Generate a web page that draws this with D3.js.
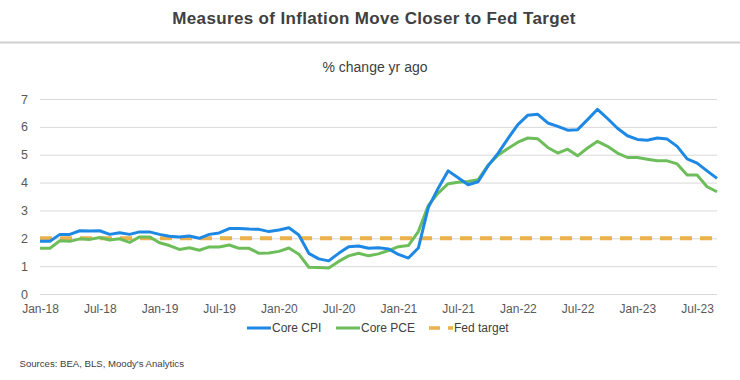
<!DOCTYPE html>
<html>
<head>
<meta charset="utf-8">
<script src="https://cdn.jsdelivr.net/npm/d3@7"></script>
<style>
  html, body { margin: 0; padding: 0; background: #ffffff; }
  svg { display: block; font-family: "Liberation Sans", Arial, sans-serif; }
</style>
</head>
<body>
<svg id="chart" width="740" height="380"></svg>
<script>
// ---- Data (monthly, Jan-18 .. Sep-23) ----
const months = d3.range(69); // month index from Jan-18
const tickLabels = ["Jan-18","Jul-18","Jan-19","Jul-19","Jan-20","Jul-20","Jan-21","Jul-21","Jan-22","Jul-22","Jan-23","Jul-23"];
const tickIndex = [0,6,12,18,24,30,36,42,48,54,60,66];
const yTicks = [0,1,2,3,4,5,6,7];

const coreCPI = [
  1.89,1.89,2.14,2.14,2.27,2.26,2.27,2.14,2.20,2.14,2.23,2.23,
  2.14,2.07,2.05,2.08,2.00,2.14,2.19,2.35,2.35,2.33,2.32,2.24,
  2.30,2.38,2.12,1.46,1.26,1.19,1.46,1.70,1.72,1.64,1.66,1.62,
  1.42,1.29,1.65,3.10,3.80,4.42,4.17,3.92,4.03,4.60,5.05,5.58,
  6.08,6.42,6.45,6.14,6.02,5.88,5.90,6.26,6.63,6.30,5.95,5.68,
  5.55,5.52,5.60,5.56,5.30,4.85,4.70,4.42,4.15
];
const corePCE = [
  1.64,1.64,1.91,1.89,1.98,1.96,2.03,1.94,1.98,1.85,2.05,2.05,
  1.84,1.74,1.60,1.66,1.57,1.69,1.69,1.76,1.64,1.64,1.46,1.47,
  1.53,1.65,1.43,0.96,0.95,0.93,1.17,1.37,1.46,1.37,1.44,1.56,
  1.70,1.74,2.24,3.18,3.62,3.96,4.01,4.04,4.10,4.62,4.98,5.22,
  5.45,5.60,5.57,5.26,5.06,5.20,4.96,5.24,5.48,5.30,5.06,4.90,
  4.90,4.84,4.78,4.78,4.67,4.27,4.27,3.85,3.67
];
const fedTarget = months.map(() => 2);

const seriesNames = ["Core CPI","Core PCE","Fed target"];
const seriesColors = ["#1E88E5","#6DBE5B","#EAB14C"];

// ---- Layout ----
const svg = d3.select("#chart");
const W = 740;
const plot = { left: 40, right: 717, top: 99, bottom: 294 };

const x = d3.scaleLinear().domain([0, 68]).range([plot.left, plot.right]);
const y = d3.scaleLinear().domain([0, 7]).range([plot.bottom, plot.top]);

// Title
svg.append("text")
  .attr("x", 374).attr("y", 23.5)
  .attr("text-anchor", "middle")
  .attr("font-size", 17).attr("font-weight", "bold")
  .attr("letter-spacing", 0.35)
  .attr("fill", "#404040")
  .text("Measures of Inflation Move Closer to Fed Target");

svg.append("line")
  .attr("x1", 0).attr("x2", W).attr("y1", 42.5).attr("y2", 42.5)
  .attr("stroke", "#d0d0d0").attr("stroke-width", 2);

svg.append("text")
  .attr("x", 375).attr("y", 72)
  .attr("text-anchor", "middle")
  .attr("font-size", 14)
  .attr("fill", "#404040")
  .text("% change yr ago");

// Y axis with gridlines
const yAxis = svg.append("g")
  .attr("transform", `translate(${plot.left},0)`)
  .call(d3.axisLeft(y).tickValues(yTicks).tickSize(-(plot.right - plot.left)).tickPadding(12).tickFormat(d3.format("d")));
yAxis.select(".domain").remove();
yAxis.selectAll(".tick line").attr("stroke", "#d9d9d9").attr("stroke-width", 1);
yAxis.selectAll(".tick text").attr("font-size", 12.5).attr("fill", "#595959")
  .attr("font-family", "'Liberation Sans', Arial, sans-serif");

// X axis labels
const xAxis = svg.append("g")
  .attr("transform", `translate(0,${plot.bottom})`)
  .call(d3.axisBottom(x).tickValues(tickIndex).tickSize(0).tickPadding(10)
    .tickFormat((d, i) => tickLabels[i]));
xAxis.select(".domain").remove();
xAxis.selectAll(".tick text").attr("font-size", 12).attr("fill", "#595959")
  .attr("font-family", "'Liberation Sans', Arial, sans-serif");

// Lines
const line = d3.line().x((d, i) => x(months[i])).y(d => y(d));

svg.append("path").datum(fedTarget)
  .attr("d", line).attr("fill", "none")
  .attr("stroke", seriesColors[2]).attr("stroke-width", 4)
  .attr("stroke-dasharray", "12,8");

svg.append("path").datum(corePCE)
  .attr("d", line).attr("fill", "none")
  .attr("stroke", seriesColors[1]).attr("stroke-width", 3)
  .attr("stroke-linejoin", "round");

svg.append("path").datum(coreCPI)
  .attr("d", line).attr("fill", "none")
  .attr("stroke", seriesColors[0]).attr("stroke-width", 3)
  .attr("stroke-linejoin", "round");

// Legend
const legendX = [247, 336, 429];
const legendY = 328;
const lg = svg.append("g");
seriesNames.forEach((name, i) => {
  const g = lg.append("g").attr("transform", `translate(${legendX[i]},${legendY})`);
  g.append("line")
    .attr("x1", 0).attr("x2", 24).attr("y1", 0).attr("y2", 0)
    .attr("stroke", seriesColors[i]).attr("stroke-width", i === 2 ? 3.5 : 3)
    .attr("stroke-dasharray", i === 2 ? "11,8" : null);
  g.append("text")
    .attr("x", 25).attr("y", 3.8)
    .attr("font-size", 12).attr("fill", "#404040")
    .text(name);
});

// Source
svg.append("text")
  .attr("x", 19.5).attr("y", 366.5)
  .attr("font-size", 9.6).attr("fill", "#404040")
  .text("Sources: BEA, BLS, Moody's Analytics");
</script>
</body>
</html>
